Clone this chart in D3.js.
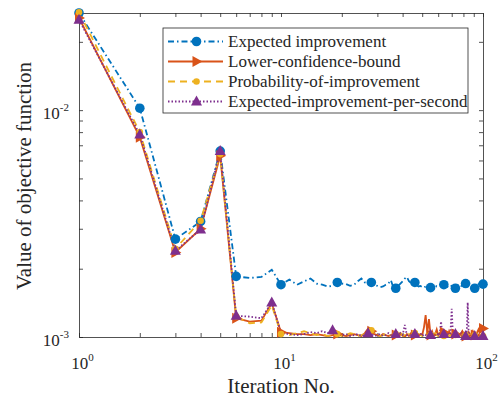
<!DOCTYPE html>
<html lang="en">
<head>
<meta charset="utf-8">
<title>Value of objective function per iteration</title>
<script src="https://cdn.jsdelivr.net/npm/d3@7"></script>
<style>
    body { margin: 0; background: #fff; }
    svg { display: block; }
    text { font-family: 'Liberation Serif', 'Times New Roman', serif; fill: #262626; }
    .axis path, .axis line { stroke: #262626; stroke-width: 0.8px; }
</style>
</head>
<body>
<svg id="chart"></svg>
<script>
    // iteration numbers 1..100
    const iterations = d3.range(1, 101);

    // values (objective function per iteration)
    const expectedImprovement = [
        0.0268, 0.0102, 0.0027, 0.00323, 0.0066, 0.00185, 0.00182, 0.00184, 0.00198, 0.00170,
        0.00179, 0.00170, 0.00176, 0.00181, 0.00172, 0.00170, 0.00167, 0.00168, 0.00174, 0.00172,
        0.00171, 0.00168, 0.00170, 0.00176, 0.00181, 0.00174, 0.00172, 0.00174, 0.00170, 0.00168,
        0.00166, 0.00167, 0.00170, 0.00172, 0.00178, 0.00165, 0.00164, 0.00168, 0.00172, 0.00176,
        0.00181, 0.00184, 0.00176, 0.00173, 0.00172, 0.00174, 0.00169, 0.00167, 0.00168, 0.00166,
        0.00165, 0.00167, 0.00165, 0.00164, 0.00165, 0.00168, 0.00170, 0.00169, 0.00167, 0.00168,
        0.00170, 0.00171, 0.00169, 0.00170, 0.00170, 0.00168, 0.00166, 0.00165, 0.00167, 0.00168,
        0.00166, 0.00165, 0.00164, 0.00166, 0.00169, 0.00171, 0.00170, 0.00168, 0.00170, 0.00172,
        0.00171, 0.00172, 0.00170, 0.00168, 0.00167, 0.00166, 0.00165, 0.00166, 0.00165, 0.00166,
        0.00164, 0.00166, 0.00168, 0.00170, 0.00171, 0.00169, 0.00170, 0.00171, 0.00172, 0.00171
    ];
    const lowerConfidenceBound = [
        0.0255, 0.0076, 0.00236, 0.00300, 0.0063, 0.00121, 0.00117, 0.00118, 0.00141, 0.00105,
        0.00104, 0.00103, 0.00103, 0.00102, 0.00103, 0.00102, 0.00101, 0.00102, 0.00103, 0.00102,
        0.00101, 0.00102, 0.00103, 0.00102, 0.00101, 0.00104, 0.00109, 0.00106, 0.00103, 0.00102,
        0.00101, 0.00103, 0.00102, 0.00101, 0.00102, 0.00103, 0.00102, 0.00101, 0.00104, 0.00102,
        0.00100, 0.00103, 0.00101, 0.00104, 0.00100, 0.00102, 0.00105, 0.00101, 0.00103, 0.00102,
        0.00110, 0.00125, 0.00104, 0.00120, 0.00102, 0.00106, 0.00101, 0.00103, 0.00108, 0.00102,
        0.00104, 0.00101, 0.00103, 0.00105, 0.00102, 0.00104, 0.00101, 0.00106, 0.00103, 0.00101,
        0.00104, 0.00102, 0.00103, 0.00105, 0.00101, 0.00103, 0.00102, 0.00104, 0.00106, 0.00102,
        0.00103, 0.00101, 0.00104, 0.00102, 0.00105, 0.00103, 0.00102, 0.00104, 0.00106, 0.00103,
        0.00102, 0.00104, 0.00103, 0.00106, 0.00108, 0.00105, 0.00107, 0.00109, 0.00108, 0.00109
    ];
    const probabilityOfImprovement = [
        0.0270, 0.0080, 0.00245, 0.00325, 0.0064, 0.00123, 0.00115, 0.00116, 0.00138, 0.00103,
        0.00102, 0.00104, 0.00106, 0.00104, 0.00102, 0.00103, 0.00101, 0.00102, 0.00103, 0.00101,
        0.00102, 0.00104, 0.00103, 0.00101, 0.00102, 0.00103, 0.00106, 0.00107, 0.00104, 0.00102,
        0.00101, 0.00102, 0.00103, 0.00101, 0.00102, 0.00101, 0.00103, 0.00102, 0.00104, 0.00101,
        0.00102, 0.00100, 0.00103, 0.00101, 0.00102, 0.00104, 0.00101, 0.00103, 0.00102, 0.00101,
        0.00103, 0.00102, 0.00104, 0.00101, 0.00102, 0.00103, 0.00101, 0.00104, 0.00102, 0.00101,
        0.00103, 0.00105, 0.00102, 0.00101, 0.00103, 0.00102, 0.00104, 0.00101, 0.00102, 0.00100,
        0.00103, 0.00101, 0.00102, 0.00104, 0.00101, 0.00103, 0.00102, 0.00100, 0.00102, 0.00101,
        0.00103, 0.00102, 0.00101, 0.00100, 0.00102, 0.00101, 0.00103, 0.00102, 0.00101, 0.00100,
        0.00102, 0.00101, 0.00100, 0.00102, 0.00101, 0.00103, 0.00101, 0.00102, 0.00100, 0.00101
    ];
    const eiPerSecond = [
        0.0250, 0.0078, 0.00240, 0.00298, 0.0066, 0.00124, 0.00123, 0.00121, 0.00142, 0.00104,
        0.00103, 0.00102, 0.00103, 0.00105, 0.00104, 0.00106, 0.00104, 0.00107, 0.00103, 0.00102,
        0.00103, 0.00101, 0.00102, 0.00103, 0.00101, 0.00102, 0.00104, 0.00103, 0.00101, 0.00102,
        0.00103, 0.00101, 0.00102, 0.00104, 0.00102, 0.00101, 0.00103, 0.00102, 0.00104, 0.00102,
        0.00113, 0.00102, 0.00103, 0.00101, 0.00102, 0.00103, 0.00101, 0.00102, 0.00104, 0.00101,
        0.00103, 0.00102, 0.00101, 0.00103, 0.00102, 0.00101, 0.00104, 0.00102, 0.00101, 0.00103,
        0.00102, 0.00117, 0.00101, 0.00103, 0.00102, 0.00101, 0.00103, 0.00102, 0.00104, 0.00133,
        0.00102, 0.00101, 0.00103, 0.00102, 0.00101, 0.00103, 0.00102, 0.00104, 0.00101, 0.00102,
        0.00103, 0.00101, 0.00102, 0.00142, 0.00101, 0.00103, 0.00102, 0.00101, 0.00102, 0.00103,
        0.00101, 0.00102, 0.00101, 0.00103, 0.00102, 0.00101, 0.00102, 0.00101, 0.00102, 0.00101
    ];

    // iterations that carry a marker
    const markersA = [1, 2, 3, 4, 5, 6, 10, 19, 28, 37, 46, 55, 64, 73, 82, 91, 100];
    const markersB = [1, 2, 3, 4, 5, 6, 9, 18, 27, 37, 46, 55, 64, 73, 82, 91, 100];

    const seriesNames = ['Expected improvement', 'Lower-confidence-bound',
        'Probability-of-improvement', 'Expected-improvement-per-second'];

    const series = [
        { name: seriesNames[0], values: expectedImprovement, color: '#0072BD', dash: '6,3,1.5,3', marker: 'circle', marks: markersA },
        { name: seriesNames[1], values: lowerConfidenceBound, color: '#D95319', dash: null, marker: 'right', marks: markersA },
        { name: seriesNames[2], values: probabilityOfImprovement, color: '#EDB120', dash: '7,5', marker: 'dot', marks: markersA },
        { name: seriesNames[3], values: eiPerSecond, color: '#7E2F8E', dash: '1.5,2', marker: 'up', marks: markersB }
    ];

    const WIDTH = 502, HEIGHT = 400;
    const M = { left: 79, top: 13, right: 19, bottom: 63 };
    const W = WIDTH - M.left - M.right, H = HEIGHT - M.top - M.bottom;

    const svg = d3.select('#chart')
        .attr('width', WIDTH).attr('height', HEIGHT)
        .attr('viewBox', `0 0 ${WIDTH} ${HEIGHT}`);

    const x = d3.scaleLog().domain([1, 100]).range([0, W]);
    const y = d3.scaleLog().domain([0.001, 0.0268]).range([H, 0]);

    const g = svg.append('g').attr('transform', `translate(${M.left},${M.top})`);

    svg.append('defs').append('clipPath').attr('id', 'clip')
        .append('rect').attr('width', W).attr('height', H);

    // axes: ticks point inward on all four sides (box on)
    const TICK = 4;
    const xTicks = x.ticks(), yTicks = y.ticks();
    const isMajor = v => Math.abs(Math.log10(v) - Math.round(Math.log10(v))) < 1e-9;

    function supLabel(sel) {
        sel.selectAll('.tick text').each(function(d) {
            const t = d3.select(this).text('');
            if (!isMajor(d)) return;
            t.append('tspan').attr('font-size', 17).text('10');
            t.append('tspan').attr('font-size', 11).attr('dy', -8).text(Math.round(Math.log10(d)));
        });
    }

    const gx = g.append('g').attr('class', 'axis').attr('transform', `translate(0,${H})`)
        .call(d3.axisBottom(x).tickValues(xTicks).tickSizeInner(-TICK).tickSizeOuter(0).tickPadding(25));
    supLabel(gx);
    gx.selectAll('.tick text').attr('fill', '#262626').attr('dx', 3);

    g.append('g').attr('class', 'axis')
        .call(d3.axisTop(x).tickValues(xTicks).tickSizeInner(-TICK).tickSizeOuter(0).tickFormat(''));

    const gy = g.append('g').attr('class', 'axis')
        .call(d3.axisLeft(y).tickValues(yTicks).tickSizeInner(-TICK).tickSizeOuter(0).tickPadding(10));
    supLabel(gy);
    gy.selectAll('.tick text').attr('fill', '#262626').attr('dy', 8);

    g.append('g').attr('class', 'axis').attr('transform', `translate(${W},0)`)
        .call(d3.axisRight(y).tickValues(yTicks).tickSizeInner(-TICK).tickSizeOuter(0).tickFormat(''));

    // series lines
    const line = d3.line()
        .x((d, i) => x(iterations[i]))
        .y(d => y(d));

    const plot = g.append('g');
    plot.selectAll('path.series')
        .data(series)
        .join('path')
        .attr('class', 'series')
        .attr('clip-path', 'url(#clip)')
        .attr('fill', 'none')
        .attr('stroke', d => d.color)
        .attr('stroke-width', 1.8)
        .attr('stroke-dasharray', d => d.dash)
        .attr('d', d => line(d.values));

    // marker shapes
    function drawMarker(sel, type, color) {
        if (type === 'circle') {
            sel.append('circle').attr('r', 4.8).attr('fill', color);
        } else if (type === 'dot') {
            sel.append('circle').attr('r', 3.3).attr('fill', color);
        } else if (type === 'up') {
            sel.append('path').attr('d', 'M0,-6L5.5,4L-5.5,4Z').attr('fill', color);
        } else if (type === 'right') {
            sel.append('path').attr('d', 'M6,0L-4,-5.5L-4,5.5Z').attr('fill', color);
        }
    }

    series.forEach(s => {
        s.marks.forEach(it => {
            const m = plot.append('g')
                .attr('transform', `translate(${x(it)},${y(s.values[it - 1])})`);
            drawMarker(m, s.marker, s.color);
        });
    });

    // legend
    const legend = g.append('g').attr('transform', `translate(${163 - M.left},${28 - M.top})`);
    legend.append('rect')
        .attr('width', 305).attr('height', 85)
        .attr('fill', '#fff').attr('stroke', '#262626').attr('stroke-width', 0.8);
    series.forEach((s, i) => {
        const row = legend.append('g').attr('transform', `translate(0,${13.5 + i * 20})`);
        row.append('line')
            .attr('x1', 5).attr('x2', 60)
            .attr('stroke', s.color).attr('stroke-width', 1.8)
            .attr('stroke-dasharray', s.dash);
        drawMarker(row.append('g').attr('transform', 'translate(33.5,0)'), s.marker, s.color);
        row.append('text')
            .attr('x', 65).attr('y', 5.5)
            .attr('font-size', 17)
            .text(s.name);
    });

    // axis titles
    svg.append('text')
        .attr('x', M.left + W / 2).attr('y', 393)
        .attr('text-anchor', 'middle').attr('font-size', 21)
        .text('Iteration No.');
    svg.append('text')
        .attr('transform', 'translate(31,176) rotate(-90)')
        .attr('text-anchor', 'middle').attr('font-size', 21)
        .text('Value of objective function');
</script>
</body>
</html>
